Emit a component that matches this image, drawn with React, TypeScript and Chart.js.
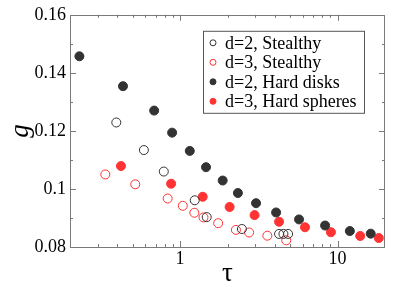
import React, { useEffect, useRef } from "react";
import { Chart, registerables } from "chart.js";

Chart.register(...registerables);

// d=2, Stealthy (black open)
const tauStealthy2 = [0.3935, 0.589, 0.788, 1.239, 1.476, 2.469, 4.25, 4.53, 4.85];
const gStealthy2 = [0.1229, 0.1134, 0.106, 0.0961, 0.0903, 0.0862, 0.0845, 0.0845, 0.0845];
// d=3, Stealthy (red open)
const tauStealthy3 = [0.335, 0.519, 0.834, 1.04, 1.232, 1.408, 1.745, 2.262, 2.742, 3.58, 4.72];
const gStealthy3 = [0.105, 0.1016, 0.0967, 0.0942, 0.0918, 0.0902, 0.0882, 0.0859, 0.085, 0.0839, 0.0823];
// d=2, Hard disks (black filled)
const tauDisks = [0.2295, 0.434, 0.6845, 0.89, 1.152, 1.461, 1.864, 2.328, 3.036, 4.07, 5.69, 8.33, 11.96, 16.23];
const gDisks = [0.1457, 0.1354, 0.127, 0.1194, 0.1131, 0.1075, 0.1029, 0.0986, 0.0951, 0.0919, 0.0895, 0.0874, 0.0855, 0.0846];
// d=3, Hard spheres (red filled)
const tauSpheres = [0.4213, 0.877, 1.392, 2.063, 2.97, 4.25, 6.21, 9.07, 13.92, 18.26];
const gSpheres = [0.1079, 0.1018, 0.0973, 0.0938, 0.091, 0.0887, 0.0868, 0.0851, 0.0838, 0.0831];

const seriesLabels = ["d=2, Stealthy", "d=3, Stealthy", "d=2, Hard disks", "d=3, Hard spheres"];

const xMajorTicks = [1, 10];
const yMajorTicks = [0.08, 0.1, 0.12, 0.14, 0.16];
const yMinorTicks = [0.09, 0.11, 0.13, 0.15];
const xRange = [0.2, 20];
const yRange = [0.08, 0.16];

const BLACK = "#333333";
const RED = "#ff3333";
const FONT = "'Liberation Serif', 'DejaVu Serif', serif";

const pts = (xs: number[], ys: number[]) => xs.map((x, i) => ({ x, y: ys[i] }));

const framePlugin = {
  id: "frameTicks",
  afterDraw(chart: any) {
    const { ctx, chartArea } = chart;
    const { left, right, top, bottom } = chartArea;
    const xs = chart.scales.x;
    const ys = chart.scales.y;
    ctx.save();
    ctx.strokeStyle = "#7a7a7a";
    ctx.lineWidth = 1;
    ctx.strokeRect(Math.round(left) + 0.5, Math.round(top) + 0.5, Math.round(right - left) - 1, Math.round(bottom - top));
    const major = 6;
    const minor = 3;
    ctx.beginPath();
    const xTicks: { v: number; m: boolean }[] = [];
    for (let e = -1; e <= 1; e++) {
      for (let k = 1; k <= 9; k++) {
        const v = k * Math.pow(10, e);
        if (v > xRange[0] * 1.0001 && v < xRange[1] * 0.9999) xTicks.push({ v, m: k === 1 });
      }
    }
    xTicks.forEach(({ v, m }) => {
      const px = Math.round(xs.getPixelForValue(v)) + 0.5;
      const l = m ? major : minor;
      ctx.moveTo(px, bottom);
      ctx.lineTo(px, bottom - l);
      ctx.moveTo(px, top);
      ctx.lineTo(px, top + l);
    });
    const yT = [
      ...yMajorTicks.map((v) => ({ v, m: true })),
      ...yMinorTicks.map((v) => ({ v, m: false })),
    ];
    yT.forEach(({ v, m }) => {
      const py = Math.round(ys.getPixelForValue(v)) + 0.5;
      const l = m ? major : minor;
      ctx.moveTo(left, py);
      ctx.lineTo(left + l, py);
      ctx.moveTo(right, py);
      ctx.lineTo(right - l, py);
    });
    ctx.stroke();

    // legend box
    const bx = left + 133;
    const by = top + 16;
    const bw = 161;
    const bh = 82;
    ctx.fillStyle = "#ffffff";
    ctx.fillRect(bx, by, bw, bh);
    ctx.strokeStyle = "#555555";
    ctx.strokeRect(bx + 0.5, by + 0.5, bw, bh);
    ctx.font = `18px ${FONT}`;
    ctx.textBaseline = "middle";
    ctx.textAlign = "left";
    chart.data.datasets.forEach((ds: any, i: number) => {
      const cy = by + 12 + i * 19.5;
      const cx = bx + 10;
      ctx.beginPath();
      ctx.arc(cx, cy, 3, 0, Math.PI * 2);
      ctx.fillStyle = ds.pointBackgroundColor;
      ctx.fill();
      ctx.strokeStyle = ds.pointBorderColor;
      ctx.lineWidth = 1;
      ctx.stroke();
      ctx.fillStyle = "#000000";
      ctx.fillText(ds.label, bx + 22, cy + 1);
    });
    ctx.restore();
  },
};

export default function App() {
  const ref = useRef<HTMLCanvasElement>(null);
  useEffect(() => {
    if (!ref.current) return;
    const mk = (label: string, data: any[], fill: string, border: string) => ({
      label,
      data,
      showLine: false,
      pointRadius: 4.5,
      pointHoverRadius: 4.5,
      pointBorderWidth: 1,
      pointBackgroundColor: fill,
      pointBorderColor: border,
      backgroundColor: fill,
      borderColor: border,
    });
    const chart = new Chart(ref.current, {
      type: "scatter",
      data: {
        datasets: [
          mk(seriesLabels[0], pts(tauStealthy2, gStealthy2), "rgba(255,255,255,0)", BLACK),
          mk(seriesLabels[1], pts(tauStealthy3, gStealthy3), "rgba(255,255,255,0)", RED),
          mk(seriesLabels[2], pts(tauDisks, gDisks), BLACK, BLACK),
          mk(seriesLabels[3], pts(tauSpheres, gSpheres), RED, RED),
        ],
      },
      options: {
        animation: false,
        responsive: false,
        layout: { padding: { top: 14, right: 14, left: 0, bottom: 0 } },
        plugins: { legend: { display: false }, tooltip: { enabled: false } },
        scales: {
          x: {
            type: "logarithmic",
            min: xRange[0],
            max: xRange[1],
            afterBuildTicks: (s: any) => {
              s.ticks = xMajorTicks.map((v) => ({ value: v }));
            },
            afterFit: (s: any) => {
              s.height = 37;
            },
            grid: { display: false, drawTicks: false },
            border: { display: false },
            ticks: {
              autoSkip: false,
              maxRotation: 0,
              padding: 1,
              color: "#000",
              font: { family: FONT, size: 18 },
              callback: (v: any) => String(v),
            },
            title: {
              display: true,
              text: "τ",
              color: "#000",
              font: { family: FONT, size: 27, lineHeight: 1 },
              padding: { top: 0, bottom: -3 },
            },
          },
          y: {
            type: "linear",
            min: yRange[0],
            max: yRange[1],
            afterBuildTicks: (s: any) => {
              s.ticks = yMajorTicks.map((v) => ({ value: v }));
            },
            afterFit: (s: any) => {
              s.width = 70;
            },
            grid: { display: false, drawTicks: false },
            border: { display: false },
            ticks: {
              padding: 4,
              color: "#000",
              font: { family: FONT, size: 18 },
              callback: (v: any) => String(Math.round(Number(v) * 100) / 100),
            },
            title: {
              display: true,
              text: "g",
              color: "#000",
              font: { family: FONT, size: 27, style: "italic", lineHeight: 1 },
              padding: { top: 7, bottom: 0 },
            },
          },
        },
      },
      plugins: [framePlugin],
    });
    return () => chart.destroy();
  }, []);
  return (
    <canvas
      ref={ref}
      width={399}
      height={284}
      style={{ position: "absolute", left: 0, top: 0, display: "block" }}
    />
  );
}
